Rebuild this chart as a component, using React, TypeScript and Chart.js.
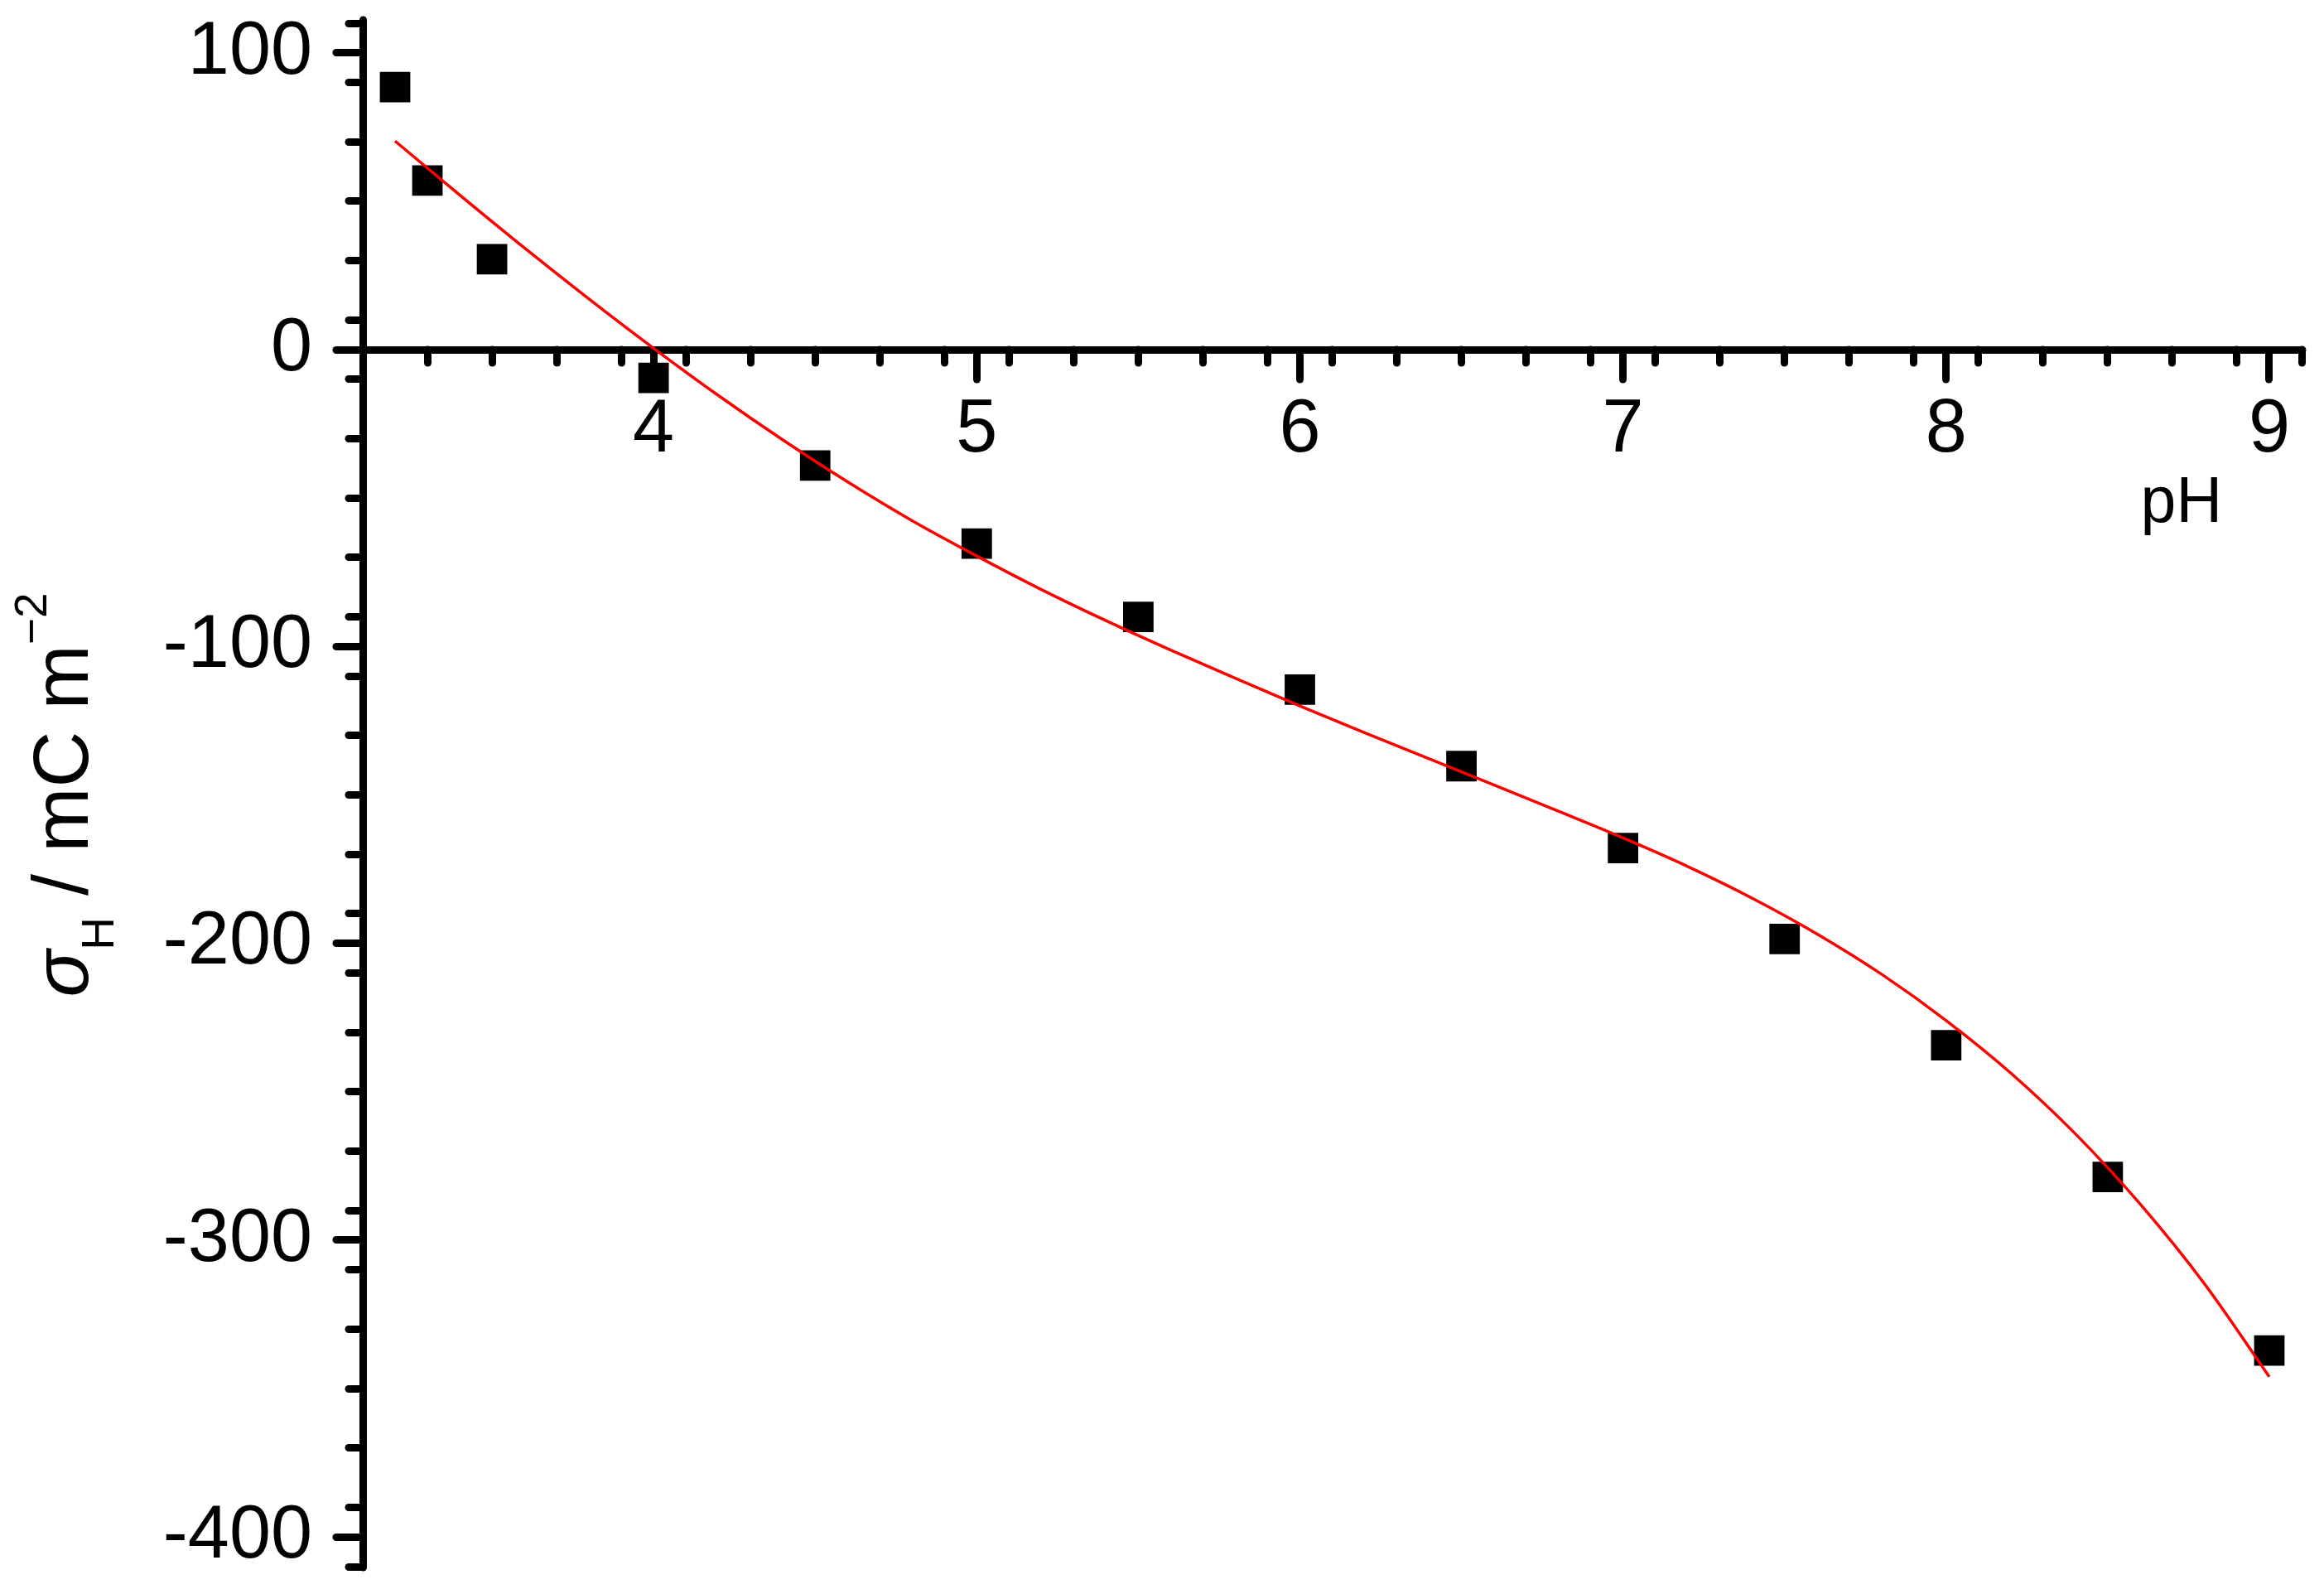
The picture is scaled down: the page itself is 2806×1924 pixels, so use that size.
import { useEffect, useRef } from "react";
import { Chart, registerables } from "chart.js";

// register every chart.js component we need
Chart.register(...registerables);

const FONT = '"Liberation Sans", Arial, Helvetica, sans-serif';
Chart.defaults.font.family = FONT;
Chart.defaults.color = "#000";

// measured points (pH, surface charge in mC m^-2)
const phValues = [3.2, 3.3, 3.5, 4, 4.5, 5, 5.5, 6, 6.5, 7, 7.5, 8, 8.5, 9];
const sigmaValues = [
  88.5, 57, 30.5, -9.5, -39, -65.3, -90, -114.5, -140.3, -167.9, -198.5,
  -234.3, -278.7, -337.2,
];

// fitted curve
const fitPh = [
  3.2, 3.4, 3.6, 3.8, 4.0, 4.2, 4.4, 4.6, 4.8, 5.0, 5.2, 5.4, 5.6, 5.8, 6.0,
  6.2, 6.4, 6.6, 6.8, 7.0, 7.2, 7.4, 7.6, 7.8, 8.0, 8.2, 8.4, 8.6, 8.8, 9.0,
];
const fitSigma = [
  70.3, 52.1, 34.3, 17.1, 0.5, -15.4, -30.4, -44.5, -57.6, -69.5, -80.8, -91.3,
  -101.2, -110.7, -120.0, -129.0, -137.8, -146.6, -155.5, -164.5, -174.1,
  -184.8, -196.8, -210.4, -226.0, -243.7, -264.2, -287.8, -314.8, -346.0,
];

// labelled ticks
const xTicks = [4, 5, 6, 7, 8, 9];
const yTicks = [100, 0, -100, -200, -300, -400];

// axis ranges
const xMin = 3.1;
const xMax = 9.1;
const yMin = -410;
const yMax = 110;

// keep chart.js from pushing the plot area around
const zeroPad = (scale: any) => {
  scale.paddingTop = 0;
  scale.paddingBottom = 0;
  scale.paddingLeft = 0;
  scale.paddingRight = 0;
};

const tickGrid = (len: number) => ({
  display: true,
  drawOnChartArea: false,
  drawTicks: true,
  tickLength: len,
  tickWidth: 9,
  tickColor: "#000",
  lineWidth: 1,
  color: "#000",
});

// axis titles: "pH" under the x axis, rotated sigma_H title with sub/superscript
const axisText = {
  id: "axisText",
  beforeDraw(chart: any) {
    chart.ctx.lineCap = "round";
  },
  afterDraw(chart: any) {
    const { ctx, chartArea, scales } = chart;
    ctx.save();
    ctx.fillStyle = "#000";

    ctx.font = `77px ${FONT}`;
    ctx.textAlign = "right";
    ctx.textBaseline = "alphabetic";
    ctx.fillText("pH", chartArea.right - 96, scales.y.getPixelForValue(0) + 208);

    const parts = [
      { text: "σ", font: `italic 94px ${FONT}`, shift: 0 },
      { text: "H", font: `55px ${FONT}`, shift: 31 },
      { text: " / mC m", font: `94px ${FONT}`, shift: 0 },
      { text: "−2", font: `55px ${FONT}`, shift: -50 },
    ];
    let total = 0;
    for (const p of parts) {
      ctx.font = p.font;
      total += ctx.measureText(p.text).width;
    }
    ctx.translate(106, (chartArea.top + chartArea.bottom) / 2);
    ctx.rotate(-Math.PI / 2);
    ctx.textAlign = "left";
    let pos = -total / 2;
    for (const p of parts) {
      ctx.font = p.font;
      ctx.fillText(p.text, pos, p.shift);
      pos += ctx.measureText(p.text).width;
    }
    ctx.restore();
  },
};

export default function App() {
  const canvasRef = useRef<HTMLCanvasElement | null>(null);

  useEffect(() => {
    const canvas = canvasRef.current;
    if (!canvas) return;

    const chart = new Chart(canvas, {
      type: "scatter",
      data: {
        datasets: [
          {
            label: "fit",
            data: fitPh.map((x, i) => ({ x, y: fitSigma[i] })),
            showLine: true,
            borderColor: "#ff0000",
            borderWidth: 3.5,
            pointRadius: 0,
            cubicInterpolationMode: "monotone",
            order: 0,
          } as any,
          {
            label: "measured",
            data: phValues.map((x, i) => ({ x, y: sigmaValues[i] })),
            pointStyle: "rect",
            pointRadius: 26,
            pointBorderWidth: 0,
            backgroundColor: "#000",
            borderColor: "#000",
            order: 1,
          },
        ],
      },
      options: {
        animation: false,
        responsive: false,
        devicePixelRatio: 1,
        layout: { padding: { top: 28, bottom: 33, right: 27, left: 0 } },
        plugins: {
          legend: { display: false },
          tooltip: { enabled: false },
        },
        scales: {
          x: {
            type: "linear",
            position: { y: 0 },
            min: xMin,
            max: xMax,
            afterBuildTicks: (s: any) => {
              s.ticks = xTicks.map((value) => ({ value }));
            },
            afterFit: zeroPad,
            grid: tickGrid(31),
            border: { display: true, width: 9, color: "#000" },
            ticks: {
              padding: 13,
              color: "#000",
              font: { size: 90 },
              maxRotation: 0,
              autoSkip: false,
            },
          },
          xMinor: {
            type: "linear",
            axis: "x",
            position: { y: 0 },
            min: xMin,
            max: xMax,
            afterFit: zeroPad,
            grid: tickGrid(16),
            border: { display: false },
            ticks: { stepSize: 0.2, display: false, includeBounds: false },
          },
          y: {
            type: "linear",
            position: "left",
            min: yMin,
            max: yMax,
            afterBuildTicks: (s: any) => {
              s.ticks = yTicks.map((value) => ({ value }));
            },
            afterFit: (s: any) => {
              zeroPad(s);
              s.width = 438;
            },
            grid: tickGrid(32),
            border: { display: true, width: 9, color: "#000" },
            ticks: { padding: 29, color: "#000", font: { size: 90 } },
          },
          yMinor: {
            type: "linear",
            axis: "y",
            position: { x: xMin },
            min: yMin,
            max: yMax,
            afterFit: zeroPad,
            grid: tickGrid(17),
            border: { display: false },
            ticks: { stepSize: 20, display: false, includeBounds: false },
          },
        } as any,
      },
      plugins: [axisText],
    });

    return () => {
      chart.destroy();
    };
  }, []);

  return (
    <div
      style={{
        position: "fixed",
        left: 0,
        top: 0,
        width: "2806px",
        height: "1924px",
        background: "#fff",
      }}
    >
      <canvas
        ref={canvasRef}
        width={2806}
        height={1924}
        style={{ display: "block", width: "2806px", height: "1924px" }}
      />
    </div>
  );
}
